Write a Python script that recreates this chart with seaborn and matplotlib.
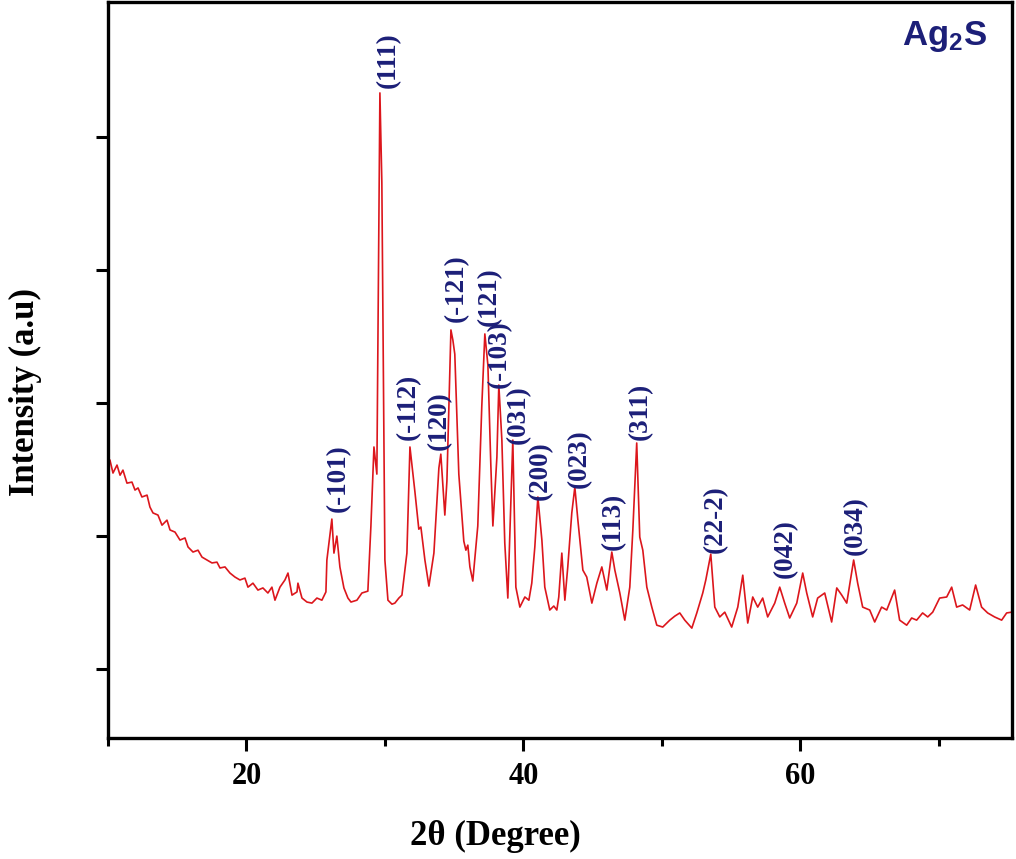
"""Difractograma XRD de Ag2S con indices de Miller sobre los picos."""
import matplotlib
matplotlib.use("Agg")
import matplotlib.pyplot as plt
import seaborn as sn

# datos: 2theta (grados) e intensidad (u.a.)
two_theta = [
    10.00, 10.14, 10.36, 10.65, 10.87, 11.08, 11.37, 11.73, 11.95, 12.17,
    12.45, 12.82, 13.03, 13.25, 13.61, 13.90, 14.26, 14.48, 14.84, 15.20,
    15.56, 15.78, 16.14, 16.50, 16.79, 17.15, 17.51, 17.87, 18.09, 18.45,
    18.81, 19.17, 19.53, 19.89, 20.11, 20.47, 20.83, 21.19, 21.55, 21.84,
    22.06, 22.42, 22.78, 23.00, 23.29, 23.65, 23.72, 24.01, 24.37, 24.73,
    25.09, 25.45, 25.74, 25.81, 26.17, 26.32, 26.53, 26.75, 27.04, 27.33,
    27.55, 27.98, 28.34, 28.77, 28.99, 29.21, 29.42, 29.64, 29.78, 30.00,
    30.22, 30.51, 30.72, 31.01, 31.23, 31.59, 31.81, 32.17, 32.45, 32.60,
    32.89, 33.18, 33.54, 33.90, 34.04, 34.33, 34.48, 34.77, 34.91, 35.05,
    35.34, 35.70, 35.85, 35.99, 36.14, 36.35, 36.71, 37.00, 37.22, 37.44,
    37.65, 37.80, 38.09, 38.23, 38.45, 38.66, 38.88, 39.24, 39.46, 39.75,
    40.11, 40.40, 40.61, 40.83, 41.05, 41.34, 41.55, 41.91, 42.20, 42.42,
    42.56, 42.78, 43.00, 43.21, 43.50, 43.72, 43.94, 44.30, 44.58, 44.95,
    45.31, 45.67, 46.03, 46.39, 46.61, 46.97, 47.33, 47.69, 47.91, 48.19,
    48.41, 48.63, 48.92, 49.28, 49.64, 50.07, 50.58, 50.94, 51.30, 51.66,
    52.17, 52.53, 52.96, 53.18, 53.54, 53.83, 54.19, 54.55, 55.05, 55.49,
    55.85, 56.21, 56.57, 56.93, 57.29, 57.65, 58.16, 58.52, 58.88, 59.24,
    59.75, 60.18, 60.47, 60.90, 61.26, 61.77, 62.27, 62.64, 63.00, 63.36,
    63.86, 64.15, 64.51, 65.02, 65.38, 65.88, 66.25, 66.82, 67.18, 67.69,
    68.05, 68.41, 68.84, 69.21, 69.57, 70.07, 70.58, 70.94, 71.30, 71.73,
    72.24, 72.67, 73.10, 73.54, 74.04, 74.55, 74.91, 75.27,
]
intensity = [
    778, 786, 737, 767, 729, 748, 699, 703, 673, 681,
    647, 654, 609, 587, 579, 541, 560, 523, 515, 485,
    493, 459, 440, 447, 421, 410, 399, 402, 380, 384,
    361, 346, 335, 342, 308, 323, 297, 305, 286, 308,
    259, 308, 335, 361, 278, 290, 323, 267, 252, 248,
    267, 259, 290, 410, 564, 436, 500, 384, 305, 267,
    252, 259, 286, 293, 538, 835, 733, 2166, 1831, 410,
    259, 244, 248, 267, 278, 436, 835, 666, 526, 534,
    410, 312, 436, 756, 808, 579, 707, 1275, 1237, 1184,
    733, 481, 447, 466, 384, 331, 538, 989, 1260, 1143,
    771, 538, 797, 1068, 861, 474, 267, 861, 308, 233,
    271, 259, 323, 459, 647, 485, 308, 222, 237, 222,
    271, 436, 259, 384, 587, 684, 560, 372, 346, 248,
    323, 384, 297, 440, 372, 286, 184, 308, 523, 850,
    496, 447, 308, 233, 165, 158, 184, 199, 211, 184,
    154, 211, 286, 335, 432, 233, 196, 214, 158, 233,
    353, 173, 271, 233, 267, 196, 248, 308, 248, 192,
    248, 361, 286, 196, 267, 286, 177, 305, 278, 248,
    410, 323, 233, 222, 177, 233, 222, 297, 184, 165,
    192, 184, 211, 196, 214, 267, 271, 308, 233, 241,
    222, 316, 233, 211, 196, 184, 211, 214,
]

# indices de Miller y posicion (2theta, intensidad) de cada etiqueta
hkl_labels = ["(-101)", "(111)", "(-112)", "(120)", "(-121)", "(121)", "(-103)",
              "(031)", "(200)", "(023)", "(113)", "(311)", "(22-2)", "(042)", "(034)"]
hkl_x = [26.61, 30.22, 31.66, 33.90, 35.13, 37.55, 38.28,
         39.65, 41.26, 44.08, 46.53, 48.48, 53.90, 58.95, 64.01]
hkl_y = [590, 2185, 861, 823, 1305, 1290, 1055,
         845, 635, 681, 447, 861, 436, 342, 429]

y_ticks = [0, 500, 1000, 1500, 2000]

sn.set_style("ticks")
plt.rcParams.update({
    "font.family": ["Liberation Serif", "DejaVu Serif"],
    "font.weight": "bold",
    "text.color": "black",
    "axes.labelcolor": "black",
    "xtick.color": "black",
    "ytick.color": "black",
    "mathtext.fontset": "custom",
    "mathtext.bf": "Liberation Sans:bold",
    "mathtext.rm": "Liberation Sans:bold",
})

AZUL = "#1c1f78"
ROJO = "#dc161c"

fig = plt.figure(figsize=(10.16, 8.59), dpi=100)
ax = fig.add_axes([0.1063, 0.1409, 0.8898, 0.8568])

sn.lineplot(x=two_theta, y=intensity, ax=ax, color=ROJO, lw=1.2,
            estimator=None, sort=False)

for lab, xv, yv in zip(hkl_labels, hkl_x, hkl_y):
    ax.text(xv, yv, lab, rotation=90, ha="center", va="bottom",
            fontsize=19.5, fontweight="bold", color=AZUL)

ax.text(0.925, 0.953, r"$\mathbf{Ag_2S}$", transform=ax.transAxes,
        ha="center", va="center", fontsize=25, color=AZUL)

ax.set_xlim(10, 75.3)
ax.set_ylim(-259, 2508)
ax.set_xticks([20, 40, 60])
ax.set_xticks([10, 30, 50, 70], minor=True)
ax.set_yticks(y_ticks)
ax.set_yticklabels([])

for s in ax.spines.values():
    s.set_linewidth(2.4)
    s.set_color("black")
ax.tick_params(axis="both", which="major", direction="out", length=9,
               width=2.2, labelsize=22, pad=8, labelcolor="black")
ax.tick_params(axis="x", which="minor", direction="out", length=6, width=2.2)
for t in ax.get_xticklabels():
    t.set_fontweight("bold")

ax.set_xlabel("2θ (Degree)", fontsize=25, fontweight="bold", color="black")
ax.set_ylabel("Intensity (a.u)", fontsize=25, fontweight="bold", color="black")
ax.xaxis.set_label_coords(0.429, -0.112)
ax.yaxis.set_label_coords(-0.073, 0.47)

fig.savefig("out.png", dpi=100)
plt.close(fig)
